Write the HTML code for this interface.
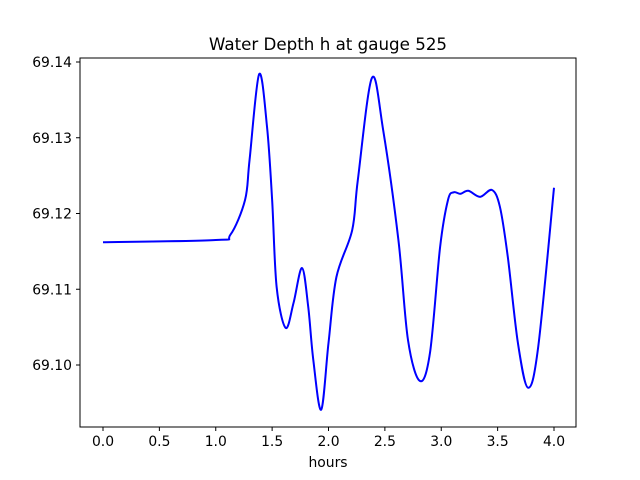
<!DOCTYPE html>
<html><head><meta charset="utf-8"><style>
html,body{margin:0;padding:0;background:#fff;}
svg{display:block;font-family:"DejaVu Sans","Liberation Sans",sans-serif;}
</style></head><body>
<svg id="chart" width="640" height="480" viewBox="0 0 640 480" xmlns="http://www.w3.org/2000/svg">
<rect x="0" y="0" width="640" height="480" fill="#fff"/>
<text x="328" y="50" text-anchor="middle" font-size="16.7">Water Depth h at gauge 525</text>
<g id="xticks"></g>
<g id="yticks"></g>
<path id="line" fill="none" stroke="#0000ff" stroke-width="2"/>
<rect x="80" y="58" width="496" height="369" fill="none" stroke="#000" stroke-width="1"/>
<text x="328" y="467" text-anchor="middle" font-size="13.9">hours</text>
</svg>
<script>
const hours = [0,1.0,1.13,1.26,1.30,1.385,1.455,1.50,1.54,1.62,1.69,1.765,1.82,1.865,1.935,2.0,2.07,2.21,2.26,2.385,2.485,2.62,2.705,2.81,2.90,2.99,3.06,3.11,3.17,3.24,3.345,3.45,3.52,3.59,3.68,3.77,3.86,4.0];
const depth = [69.1162,69.1165,69.1172,69.1218,69.1271,69.1384,69.1314,69.1218,69.1103,69.1049,69.1082,69.1128,69.1077,69.1007,69.0941,69.1029,69.1116,69.1178,69.1244,69.1379,69.1310,69.1165,69.1033,69.0979,69.1016,69.1156,69.1218,69.1228,69.1226,69.1230,69.1222,69.1231,69.1209,69.1143,69.1029,69.0970,69.1024,69.1234];
const xTicks = [0,0.5,1.0,1.5,2.0,2.5,3.0,3.5,4.0];
const yTicks = [69.10,69.11,69.12,69.13,69.14];

const NS="http://www.w3.org/2000/svg";
function xs(v){return 103+v*112.75;}
function ys(v){return 365-(v-69.10)*7575;}

const xg=document.getElementById('xticks');
xTicks.forEach(t=>{
  const l=document.createElementNS(NS,'line');
  
  
  l.setAttribute('x1',xs(t));l.setAttribute('x2',xs(t));l.setAttribute('y1',427);l.setAttribute('y2',431);l.setAttribute('stroke','#000');
  xg.appendChild(l);
  const tx=document.createElementNS(NS,'text');
  
  
  tx.setAttribute('x',xs(t));tx.setAttribute('y',446);tx.setAttribute('text-anchor','middle');tx.setAttribute('font-size','13.9');
  tx.textContent=t.toFixed(1);
  xg.appendChild(tx);
});
const yg=document.getElementById('yticks');
yTicks.forEach(t=>{
  const l=document.createElementNS(NS,'line');
  
  
  l.setAttribute('x1',76);l.setAttribute('x2',80);l.setAttribute('y1',ys(t));l.setAttribute('y2',ys(t));l.setAttribute('stroke','#000');
  yg.appendChild(l);
  const tx=document.createElementNS(NS,'text');
  
  
  tx.setAttribute('x',72);tx.setAttribute('y',ys(t)+5);tx.setAttribute('text-anchor','end');tx.setAttribute('font-size','13.9');
  tx.textContent=t.toFixed(2);
  yg.appendChild(tx);
});
// Catmull-Rom smooth path
const P=hours.map((h,i)=>[xs(h),ys(depth[i])]);
let d='M'+P[0][0]+','+P[0][1];
for(let i=0;i<P.length-1;i++){
  const p0=P[Math.max(0,i-1)],p1=P[i],p2=P[i+1],p3=P[Math.min(P.length-1,i+2)];
  const c1=[p1[0]+(p2[0]-p0[0])/6,p1[1]+(p2[1]-p0[1])/6];
  const c2=[p2[0]-(p3[0]-p1[0])/6,p2[1]-(p3[1]-p1[1])/6];
  d+=' C'+c1[0]+','+c1[1]+' '+c2[0]+','+c2[1]+' '+p2[0]+','+p2[1];
}
document.getElementById('line').setAttribute('d',d);
</script>
</body></html>
